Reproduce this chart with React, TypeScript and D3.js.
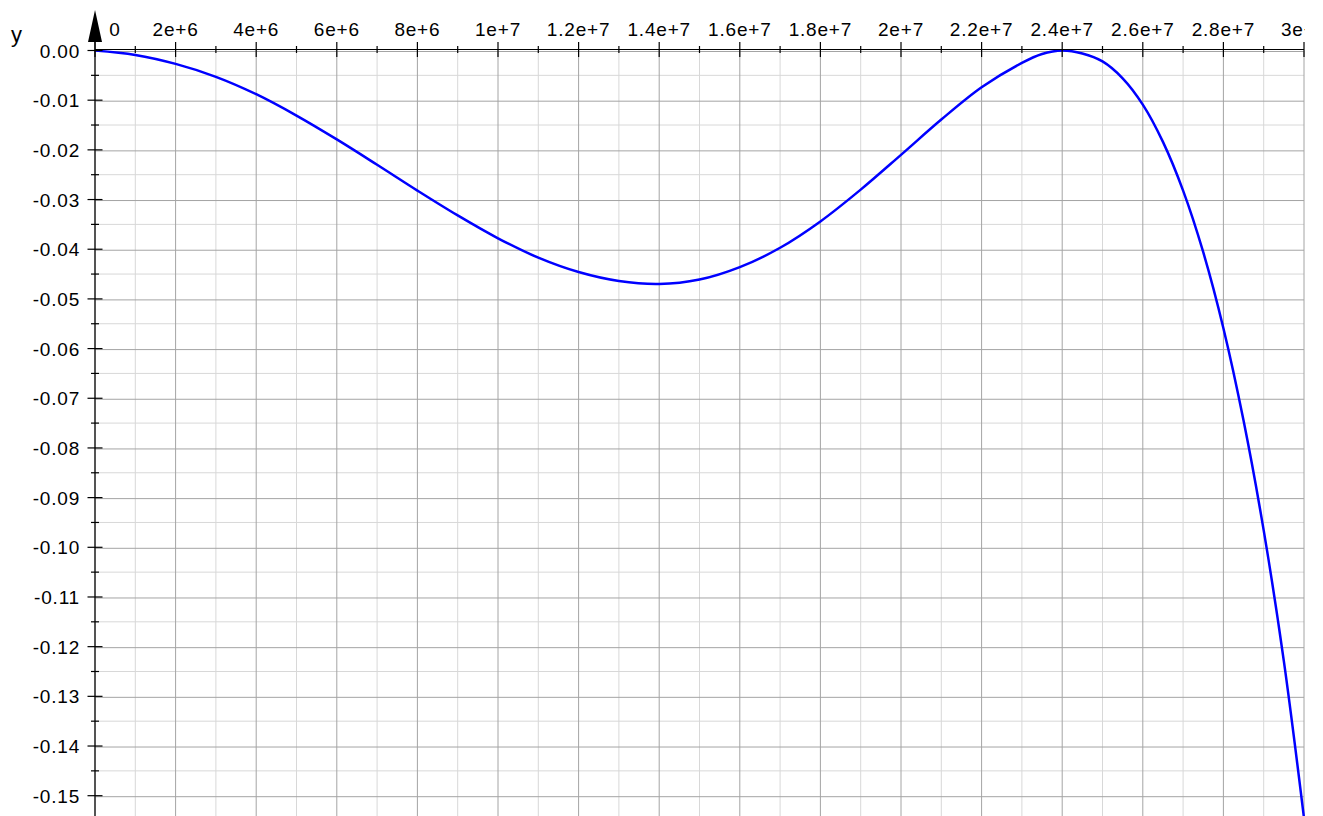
import React, { useEffect } from "react";
import * as d3 from "d3";

// Curve samples (x in units of 1e6)
const xValuesM = [0, 1, 2, 3, 4, 5, 6, 7, 8, 9, 10, 11, 12, 13, 14, 15, 16, 17, 18, 19, 20, 21, 22, 23, 23.5, 24, 24.5, 25, 25.5, 26, 26.5, 27, 27.5, 28, 28.5, 29, 29.5, 30];
const yValues = [0, -0.0009, -0.0027, -0.0053, -0.0088, -0.0131, -0.0179, -0.023, -0.0282, -0.0332, -0.0378, -0.0417, -0.0446, -0.0464, -0.047, -0.0461, -0.0436, -0.0397, -0.0344, -0.028, -0.021, -0.0139, -0.0074, -0.0025, -0.0007, 0, -0.0006, -0.0022, -0.0056, -0.0109, -0.0184, -0.0282, -0.0406, -0.0559, -0.0745, -0.0966, -0.1229, -0.1545];

const xTickValues = [0, 2e6, 4e6, 6e6, 8e6, 1e7, 1.2e7, 1.4e7, 1.6e7, 1.8e7, 2e7, 2.2e7, 2.4e7, 2.6e7, 2.8e7, 3e7];
const xTickLabels = ["0", "2e+6", "4e+6", "6e+6", "8e+6", "1e+7", "1.2e+7", "1.4e+7", "1.6e+7", "1.8e+7", "2e+7", "2.2e+7", "2.4e+7", "2.6e+7", "2.8e+7", "3e+7"];
const yTickValues = [0, -0.01, -0.02, -0.03, -0.04, -0.05, -0.06, -0.07, -0.08, -0.09, -0.1, -0.11, -0.12, -0.13, -0.14, -0.15];
const yTickLabels = ["0.00", "-0.01", "-0.02", "-0.03", "-0.04", "-0.05", "-0.06", "-0.07", "-0.08", "-0.09", "-0.10", "-0.11", "-0.12", "-0.13", "-0.14", "-0.15"];
const xMinorValues = d3.range(0, 31).map((v) => v * 1e6);
const yMinorValues = d3.range(0, 31).map((v) => -v * 0.005);

const W = 1323;
const H = 816;
const FONT = "'Liberation Sans', Arial, Helvetica, sans-serif";

export default function App() {
  useEffect(() => {
    document.body.style.margin = "0";
  }, []);

  const x = d3.scaleLinear().domain([0, 3e7]).range([95, 1304]);
  const y = d3.scaleLinear().domain([-0.15, 0]).range([795.7, 50.5]);
  const plotLeft = x(0);
  const plotRight = x(3e7);
  const plotTop = y(0);

  const pts = xValuesM.map((v, i) => [v * 1e6, yValues[i]] as [number, number]);
  const line = d3
    .line<[number, number]>()
    .x((d) => x(d[0]))
    .y((d) => y(d[1]))
    .curve(d3.curveCatmullRom.alpha(0.5));

  const isMajorX = (v: number) => Math.round(v / 1e6) % 2 === 0;
  const isMajorY = (v: number) => Math.round(-v / 0.005) % 2 === 0;

  return (
    <svg width={W} height={H} style={{ position: "absolute", left: 0, top: 0, display: "block" }}>
      <defs>
        <clipPath id="plotclip">
          <rect x={plotLeft} y={plotTop - 2} width={plotRight - plotLeft + 1} height={H - plotTop + 2} />
        </clipPath>
        <clipPath id="labelclip">
          <rect x={0} y={0} width={plotRight + 1} height={H} />
        </clipPath>
      </defs>
      <rect x={0} y={0} width={W} height={H} fill="#fff" />
      {/* minor grid */}
      <g>
        {xMinorValues.filter((v) => !isMajorX(v)).map((v) => (
          <line key={"vx" + v} x1={x(v)} x2={x(v)} y1={plotTop} y2={H} stroke="#d8d8d8" strokeWidth={1} />
        ))}
        {yMinorValues.filter((v) => !isMajorY(v)).map((v) => (
          <line key={"hy" + v} x1={plotLeft} x2={plotRight} y1={y(v)} y2={y(v)} stroke="#d8d8d8" strokeWidth={1} />
        ))}
      </g>
      {/* major grid */}
      <g>
        {xTickValues.map((v) => (
          <line key={"Vx" + v} x1={x(v)} x2={x(v)} y1={plotTop} y2={H} stroke="#a4a4a4" strokeWidth={1} />
        ))}
        {yTickValues.map((v) => (
          <line key={"Hy" + v} x1={plotLeft} x2={plotRight} y1={y(v) + 1} y2={y(v) + 1} stroke="#a4a4a4" strokeWidth={1} />
        ))}
      </g>
      {/* curve */}
      <path d={line(pts) || ""} fill="none" stroke="#0000ff" strokeWidth={2.5} clipPath="url(#plotclip)" />
      {/* x axis */}
      <line x1={plotLeft} x2={plotRight} y1={plotTop - 1} y2={plotTop - 1} stroke="#000" strokeWidth={1.2} />
      {xMinorValues.map((v) => {
        const major = isMajorX(v);
        const len = major ? 7.5 : 3.5;
        return <line key={"tx" + v} x1={x(v)} x2={x(v)} y1={plotTop - 1 - len} y2={plotTop - 1 + len} stroke="#000" strokeWidth={1.2} />;
      })}
      <g clipPath="url(#labelclip)">
        {xTickValues.map((v, i) => (
          <text
            key={"lx" + v}
            x={v === 0 ? x(v) + 20 : x(v)}
            y={36}
            textAnchor="middle"
            fontFamily={FONT}
            fontSize={19}
            letterSpacing={0.8}
            fill="#000"
          >
            {xTickLabels[i]}
          </text>
        ))}
      </g>
      {/* y axis */}
      <line x1={plotLeft} x2={plotLeft} y1={30} y2={H} stroke="#000" strokeWidth={1.2} />
      <path d={`M${plotLeft},10 L${plotLeft - 7},42 L${plotLeft + 7},42 Z`} fill="#000" />
      {yMinorValues.map((v) => {
        const major = isMajorY(v);
        const len = major ? 7.5 : 4;
        return <line key={"ty" + v} x1={plotLeft - len} x2={plotLeft + len} y1={y(v)} y2={y(v)} stroke="#000" strokeWidth={1.2} />;
      })}
      {yTickValues.map((v, i) => (
        <text
          key={"ly" + v}
          x={80}
          y={y(v) + 7}
          textAnchor="end"
          fontFamily={FONT}
          fontSize={19}
          letterSpacing={0.8}
          fill="#000"
        >
          {yTickLabels[i]}
        </text>
      ))}
      <text x={11} y={42} fontFamily={FONT} fontSize={22} fill="#000">
        y
      </text>
    </svg>
  );
}
